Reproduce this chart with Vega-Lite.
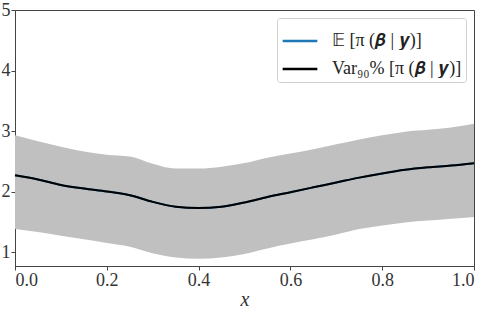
{
  "$schema": "https://vega.github.io/schema/vega-lite/v6.json",
  "width": 459,
  "height": 256,
  "autosize": {"type": "none"},
  "padding": {"left": 15, "top": 10, "right": 14, "bottom": 43},
  "config": {
    "font": "Liberation Serif",
    "view": {"stroke": "#444", "strokeWidth": 1},
    "axis": {"grid": false, "domainColor": "#444", "tickColor": "#444", "labelColor": "#333", "labelFont": "Liberation Serif", "labelFontSize": 18, "titleFont": "Liberation Serif", "titleFontSize": 20, "titleFontWeight": "normal", "titleColor": "#333", "tickSize": 4}
  },
  "data": {"values": [
    {"x": 0.0, "mean": 2.27, "hi": 2.93, "lo": 1.38},
    {"x": 0.05, "mean": 2.20, "hi": 2.83, "lo": 1.33},
    {"x": 0.1, "mean": 2.11, "hi": 2.74, "lo": 1.27},
    {"x": 0.15, "mean": 2.05, "hi": 2.66, "lo": 1.21},
    {"x": 0.2, "mean": 2.00, "hi": 2.61, "lo": 1.15},
    {"x": 0.25, "mean": 1.94, "hi": 2.58, "lo": 1.09},
    {"x": 0.3, "mean": 1.83, "hi": 2.46, "lo": 0.98},
    {"x": 0.35, "mean": 1.75, "hi": 2.38, "lo": 0.91},
    {"x": 0.4, "mean": 1.73, "hi": 2.38, "lo": 0.89},
    {"x": 0.45, "mean": 1.75, "hi": 2.41, "lo": 0.91},
    {"x": 0.5, "mean": 1.82, "hi": 2.47, "lo": 0.97},
    {"x": 0.55, "mean": 1.91, "hi": 2.56, "lo": 1.06},
    {"x": 0.6, "mean": 1.99, "hi": 2.63, "lo": 1.14},
    {"x": 0.65, "mean": 2.07, "hi": 2.70, "lo": 1.21},
    {"x": 0.7, "mean": 2.15, "hi": 2.78, "lo": 1.29},
    {"x": 0.75, "mean": 2.23, "hi": 2.86, "lo": 1.38},
    {"x": 0.8, "mean": 2.30, "hi": 2.93, "lo": 1.44},
    {"x": 0.85, "mean": 2.36, "hi": 2.99, "lo": 1.49},
    {"x": 0.9, "mean": 2.40, "hi": 3.02, "lo": 1.52},
    {"x": 0.95, "mean": 2.43, "hi": 3.06, "lo": 1.55},
    {"x": 1.0, "mean": 2.47, "hi": 3.12, "lo": 1.58}
  ]},
  "encoding": {
    "x": {"field": "x", "type": "quantitative", "scale": {"domain": [0, 1], "nice": false}, "axis": {"values": [0, 0.2, 0.4, 0.6, 0.8, 1.0], "format": ".1f", "title": "x", "titleFontStyle": "italic", "titlePadding": 0, "labelPadding": 1}}
  },
  "layer": [
    {
      "mark": {"type": "area", "color": "#c0c0c0", "interpolate": "monotone"},
      "encoding": {
        "y": {"field": "lo", "type": "quantitative", "scale": {"domain": [0.77, 5], "nice": false, "zero": false}, "axis": {"values": [1, 2, 3, 4, 5], "format": "d", "title": null, "labelPadding": 1}},
        "y2": {"field": "hi"}
      }
    },
    {
      "mark": {"type": "line", "strokeWidth": 2, "interpolate": "monotone"},
      "encoding": {
        "y": {"field": "mean", "type": "quantitative"},
        "color": {"datum": "𝔼 [π (𝜷 | 𝒚)]"}
      }
    },
    {
      "mark": {"type": "line", "strokeWidth": 2, "interpolate": "monotone"},
      "encoding": {
        "y": {"field": "mean", "type": "quantitative"},
        "color": {
          "datum": "Var₉₀% [π (𝜷 | 𝒚)]",
          "scale": {"domain": ["𝔼 [π (𝜷 | 𝒚)]", "Var₉₀% [π (𝜷 | 𝒚)]"], "range": ["#1f77b4", "#000000"]},
          "legend": {"title": null, "orient": "none", "legendX": 262, "legendY": 8, "symbolType": "stroke", "symbolSize": 1200, "symbolStrokeWidth": 2.5, "labelFont": "Liberation Serif", "labelFontSize": 18, "labelColor": "#222", "labelLimit": 300, "fillColor": "white", "strokeColor": "#d0d0d0", "cornerRadius": 3, "padding": 4, "rowPadding": -11, "labelOffset": 13}
        }
      }
    }
  ]
}
